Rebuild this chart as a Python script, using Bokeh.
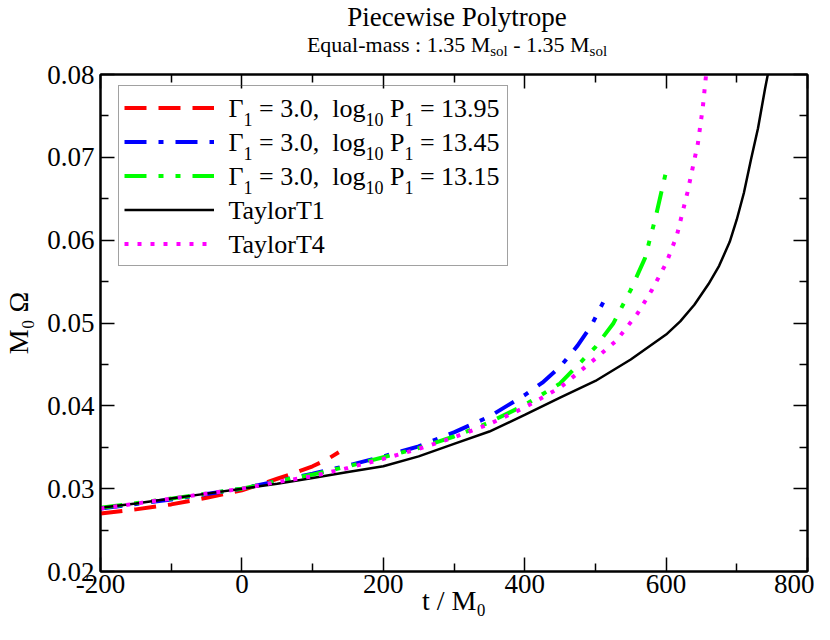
from bokeh.plotting import figure
from bokeh.layouts import column
from bokeh.models import (Range1d, LinearAxis, FixedTicker, PrintfTickFormatter,
                          Legend, LegendItem, Label)
from bokeh.embed import file_html
from bokeh.resources import INLINE

# ---------------- data ----------------
t_red = [-200, -150, -100, -50, 0, 25, 50, 75, 100, 120, 137]
w_red = [0.0270, 0.0275, 0.0281, 0.0289, 0.0298, 0.0305, 0.0312, 0.0319, 0.0327, 0.0335, 0.0344]

t_blue = [-200, -100, 0, 50, 100, 150, 200, 250, 300, 350, 400, 425, 450, 475, 495, 511]
w_blue = [0.0276, 0.0287, 0.0300, 0.0309, 0.0318, 0.0328, 0.0339, 0.0351, 0.0368, 0.0387,
          0.0413, 0.0428, 0.0447, 0.0473, 0.0498, 0.0525]

t_green = [-200, -100, 0, 50, 100, 150, 200, 250, 300, 350, 400, 450, 500, 525, 550, 570, 585, 600]
w_green = [0.0277, 0.0288, 0.0300, 0.0309, 0.0317, 0.0327, 0.0338, 0.0349, 0.0363, 0.0380,
           0.0401, 0.0427, 0.0471, 0.0499, 0.0540, 0.0578, 0.0627, 0.0683]

t_t1 = [-200, -150, -100, -50, 0, 50, 100, 150, 200, 250, 300, 350, 400, 450, 500, 550,
        600, 620, 640, 660, 675, 690, 700, 710, 720, 730, 740, 745, 750]
w_t1 = [0.0277, 0.0282, 0.0288, 0.0294, 0.0300, 0.0306, 0.0313, 0.0320, 0.0327, 0.0339,
        0.0354, 0.0369, 0.0389, 0.0410, 0.0430, 0.0456, 0.0486, 0.0502, 0.0522, 0.0547,
        0.0569, 0.0598, 0.0625, 0.0657, 0.0697, 0.0735, 0.0783, 0.0805, 0.0835]

t_t4 = [-200, -100, 0, 50, 100, 150, 200, 250, 300, 350, 400, 450, 500, 530, 560, 580,
        600, 615, 630, 645, 652, 656, 660]
w_t4 = [0.0276, 0.0288, 0.0300, 0.0308, 0.0315, 0.0325, 0.0336, 0.0348, 0.0362, 0.0378,
        0.0398, 0.0422, 0.0457, 0.0479, 0.0512, 0.0540, 0.0572, 0.0605, 0.0657, 0.0717,
        0.0761, 0.0795, 0.0830]

x_ticks = [-200, 0, 200, 400, 600, 800]
x_minor = [-100, 100, 300, 500, 700]
y_ticks = [0.02, 0.03, 0.04, 0.05, 0.06, 0.07, 0.08]
y_minor = [0.025, 0.035, 0.045, 0.055, 0.065, 0.075]

legend_values = ["13.95", "13.45", "13.15"]
x_title = "t / M\u2080"
y_title = "M\u2080 \u03a9"
FONT = "Liberation Serif"

# ---------------- geometry of the page pieces ----------------
TOTAL_W = 814
TOP_H = 58
MAIN_H = 624 - TOP_H
FRAME_LEFT = 97
FRAME_TOP = 74
FRAME_BOTTOM = 571
TITLE_CX = 453.5 - FRAME_LEFT   # the column aligns the title strip's frame with the plot frame
BASE_FIX = 0.29   # measured offset of the rendered baseline, in em


def blank_fig(w, h):
    f = figure(width=w, height=h, x_range=Range1d(0, w), y_range=Range1d(0, h),
               min_border=0, x_axis_location=None, y_axis_location=None,
               toolbar_location=None, output_backend="svg")
    f.outline_line_color = None
    f.xgrid.visible = False
    f.ygrid.visible = False
    f.background_fill_color = "white"
    f.border_fill_color = "white"
    return f


# ---------------- main figure ----------------
p = figure(width=TOTAL_W, height=MAIN_H,
           x_range=Range1d(-200, 800), y_range=Range1d(0.02, 0.08),
           min_border_left=FRAME_LEFT, min_border_right=7, min_border_top=FRAME_TOP - TOP_H,
           min_border_bottom=624 - FRAME_BOTTOM,
           output_backend="svg", toolbar_location=None)
p.xgrid.visible = False
p.ygrid.visible = False
p.outline_line_color = "black"
p.outline_line_width = 2
p.background_fill_color = "white"
p.border_fill_color = "white"

bottom_axis = p.below[0]
left_axis = p.left[0]
top_axis = LinearAxis()
right_axis = LinearAxis()
p.add_layout(top_axis, "above")
p.add_layout(right_axis, "right")

for ax in [bottom_axis, top_axis]:
    ax.ticker = FixedTicker(ticks=x_ticks, minor_ticks=x_minor)
    ax.formatter = PrintfTickFormatter(format="%d")
for ax in [left_axis, right_axis]:
    ax.ticker = FixedTicker(ticks=y_ticks, minor_ticks=y_minor)
    ax.formatter = PrintfTickFormatter(format="%.2f")

for ax in [bottom_axis, left_axis, top_axis, right_axis]:
    ax.axis_line_color = "black"
    ax.axis_line_width = 2
    ax.major_tick_in = 14
    ax.major_tick_out = 0
    ax.minor_tick_in = 8
    ax.minor_tick_out = 0
    ax.major_tick_line_color = "black"
    ax.minor_tick_line_color = "black"
    ax.major_tick_line_width = 1.5
    ax.minor_tick_line_width = 1.5
    ax.major_label_text_font = FONT
    ax.major_label_text_font_size = "27px"
    ax.major_label_text_color = "black"

for ax in [top_axis, right_axis]:
    ax.major_label_text_font_size = "0px"
    ax.major_label_text_color = None
    ax.major_label_standoff = 0

bottom_axis.major_label_standoff = 3
left_axis.major_label_standoff = 6

for ax, txt, stand in [(bottom_axis, x_title, -11), (left_axis, y_title, 10)]:
    ax.axis_label = txt
    ax.axis_label_text_font = FONT
    ax.axis_label_text_font_size = "28px"
    ax.axis_label_text_font_style = "normal"
    ax.axis_label_text_color = "black"
    ax.axis_label_standoff = stand

# ---------------- curves ----------------
r_red = p.line(t_red, w_red, line_color="#ff0000", line_width=4, line_dash="22 12")
r_blue = p.line(t_blue, w_blue, line_color="#0000ff", line_width=4, line_dash="22 12 5 12")
r_green = p.line(t_green, w_green, line_color="#00ff00", line_width=4, line_dash="22 12 5 12 5 12")
r_t1 = p.line(t_t1, w_t1, line_color="black", line_width=2.5)
r_t4 = p.line(t_t4, w_t4, line_color="#ff00ff", line_width=4, line_dash="4 9")

renderers = [r_red, r_blue, r_green, r_t1, r_t4]
legend = Legend(items=[LegendItem(label=" ", renderers=[r]) for r in renderers],
                location=(18, 305), padding=5, spacing=1, margin=0,
                glyph_height=33, glyph_width=90, label_height=33, label_width=273,
                label_standoff=15, label_text_font_size="4px",
                border_line_color="#444444", border_line_width=1.5,
                background_fill_color="white", background_fill_alpha=0.0)
p.add_layout(legend)

# ---------------- text runs with sub-scripts ----------------
W = {' ': 250, '-': 333, '.': 250, ':': 278, ',': 250, '/': 278, '=': 564,
     'E': 611, 'M': 889, 'P': 556, 'T': 611, 'a': 444, 'c': 444, 'e': 444, 'g': 500,
     'i': 278, 'l': 278, 'm': 778, 'o': 500, 'p': 500, 'q': 500, 'r': 333, 's': 389,
     't': 278, 'u': 500, 'w': 722, 'y': 500, 'Γ': 578, 'Ω': 768}
for d in "0123456789":
    W[d] = 500


def tw(s, size):
    return sum(W.get(c, 500) for c in s) * size / 1000.0


def layout_runs(runs):
    out = []
    pos = 0.0
    for text, size, dy in runs:
        lead = len(text) - len(text.lstrip(" "))
        trail = len(text) - len(text.rstrip(" "))
        pos += lead * tw(" ", size)
        core = text.strip(" ")
        out.append((core, size, dy, pos))
        pos += tw(core, size) + trail * tw(" ", size)
    return out, pos


def place(fig, runs, x, y, center=False):
    items, total = layout_runs(runs)
    off = -total / 2.0 if center else 0.0
    for core, size, dy, pos in items:
        drop = dy - BASE_FIX * size
        fig.add_layout(Label(x=x + off + pos, y=y - drop, x_units="screen", y_units="screen",
                             text=core, text_font=FONT, text_font_size=f"{size}px",
                             text_color="black", text_align="left",
                             text_baseline="alphabetic"))


# title and subtitle (own strip above the plot)
top_fig = blank_fig(TOTAL_W, TOP_H)
place(top_fig, [("Piecewise Polytrope", 27, 0)], TITLE_CX, TOP_H - 24.6, center=True)
place(top_fig, [("Equal-mass : 1.35 M", 22, 0), ("sol", 15, 4.5), (" - 1.35 M", 22, 0),
                ("sol", 15, 4.5)], TITLE_CX, TOP_H - 50.1, center=True)

# legend texts (inside the frame)
row_y = [455, 421, 387, 353, 319]
for val, yy in zip(legend_values, row_y[:3]):
    place(p, [("Γ", 26, 0), ("1", 18, 8), (" = 3.0,", 26, 0), ("  log", 26, 0), ("10", 18, 8),
              (" P", 26, 0), ("1", 18, 8), (" = " + val, 26, 0)], 128, yy)
place(p, [("TaylorT1", 26, 0)], 128, row_y[3])
place(p, [("TaylorT4", 26, 0)], 128, row_y[4])

page = column(top_fig, p, spacing=0)
open("out.html", "w").write(file_html(page, INLINE))
